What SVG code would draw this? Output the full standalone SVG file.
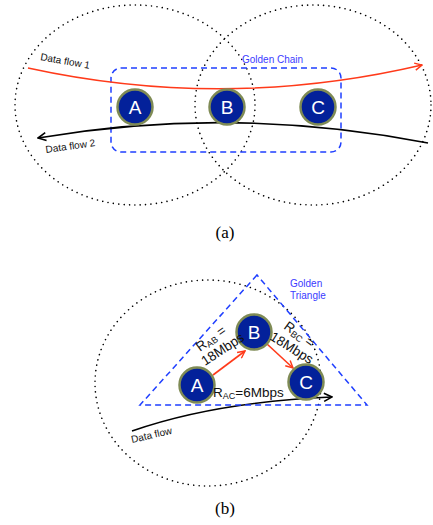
<svg xmlns="http://www.w3.org/2000/svg" width="433" height="525" viewBox="0 0 433 525">
<defs>
<style>
.dot{fill:none;stroke:#000;stroke-width:1.6;stroke-dasharray:0.01 5.4;stroke-linecap:round}
.dash{fill:none;stroke:#1f3fff;stroke-width:1.5;stroke-dasharray:6 4}
.node circle{fill:#03219a;stroke:#7f8b55;stroke-width:2.5}
.node text{fill:#fff;font-family:"Liberation Sans",Arial,sans-serif;font-size:19px;text-anchor:middle}
.lbl{font-family:"Liberation Sans",Arial,sans-serif;font-size:10px;fill:#111}
.blue{font-family:"Liberation Sans",Arial,sans-serif;font-size:10px;fill:#3b3bff}
.rate{font-family:"Liberation Sans",Arial,sans-serif;font-size:13.5px;fill:#111}
.cap{font-family:"Liberation Serif","Times New Roman",serif;font-size:17px;fill:#000;text-anchor:middle}
</style>
<marker id="ar" viewBox="0 0 10 10" refX="9" refY="5" markerWidth="9" markerHeight="9" markerUnits="userSpaceOnUse" orient="auto"><path d="M1,1 L9,5 L1,9" fill="none" stroke="#ff3a1a" stroke-width="1.6"/></marker>
<marker id="ak" viewBox="0 0 10 10" refX="9" refY="5" markerWidth="10" markerHeight="10" markerUnits="userSpaceOnUse" orient="auto"><path d="M1,1 L9,5 L1,9" fill="none" stroke="#000" stroke-width="1.6"/></marker>
</defs>

<!-- (a) -->
<ellipse class="dot" cx="135" cy="105" rx="120" ry="100"/>
<ellipse class="dot" cx="313" cy="105" rx="118" ry="100"/>
<rect id="golden-chain" class="dash" x="111" y="68" width="230" height="84" rx="10"/>
<text class="blue" x="242" y="63">Golden Chain</text>

<g id="connectors">
<path d="M28,68 Q225,111 422,65" fill="none" stroke="#ff3a1a" stroke-width="1.6" marker-end="url(#ar)"/>
<path d="M428,143 Q233,105 38,138" fill="none" stroke="#000" stroke-width="1.6" marker-end="url(#ak)"/>
<path d="M213,375 L245,351" fill="none" stroke="#ff3a1a" stroke-width="1.6" marker-end="url(#ar)"/>
<path d="M267,344 L293,368" fill="none" stroke="#ff3a1a" stroke-width="1.6" marker-end="url(#ar)"/>
<path d="M132,431 Q215,402 332,397" fill="none" stroke="#000" stroke-width="1.6" marker-end="url(#ak)"/>
</g>

<text class="lbl" transform="translate(40,60) rotate(10)">Data flow 1</text>
<text class="lbl" transform="translate(46,153) rotate(-8)">Data flow 2</text>

<g id="nodeA1" class="node"><circle cx="135" cy="107" r="17.5"/><text x="135" y="114">A</text></g>
<g id="nodeB1" class="node"><circle cx="227" cy="107" r="17.5"/><text x="227" y="114">B</text></g>
<g id="nodeC1" class="node"><circle cx="318" cy="107" r="17.5"/><text x="318" y="114">C</text></g>

<text class="cap" x="225" y="238">(a)</text>

<!-- (b) -->
<ellipse class="dot" cx="208" cy="383" rx="113" ry="103"/>
<polygon id="golden-triangle" class="dash" points="257,275 140,405 367,405"/>
<text class="blue" x="290" y="287">Golden</text>
<text class="blue" x="290" y="299">Triangle</text>

<g id="nodeA2" class="node"><circle cx="197" cy="385" r="17.5"/><text x="197" y="392">A</text></g>
<g id="nodeB2" class="node"><circle cx="254" cy="332" r="17.5"/><text x="254" y="339">B</text></g>
<g id="nodeC2" class="node"><circle cx="306" cy="382" r="17.5"/><text x="306" y="389">C</text></g>

<text class="rate" transform="translate(200,352) rotate(-36)">R<tspan font-size="9" dy="2">AB</tspan><tspan dy="-2"> =</tspan></text>
<text class="rate" transform="translate(205,366) rotate(-33)">18Mbps</text>
<text class="rate" transform="translate(283,328) rotate(36)">R<tspan font-size="9" dy="2">BC</tspan><tspan dy="-2"> =</tspan></text>
<text class="rate" transform="translate(269,339) rotate(32)">18Mbps</text>
<text class="rate" x="213" y="397">R<tspan font-size="9" dy="2">AC</tspan><tspan dy="-2">=6Mbps</tspan></text>

<text class="lbl" transform="translate(132,443) rotate(-13)">Data flow</text>

<text class="cap" x="225" y="514">(b)</text>
</svg>
